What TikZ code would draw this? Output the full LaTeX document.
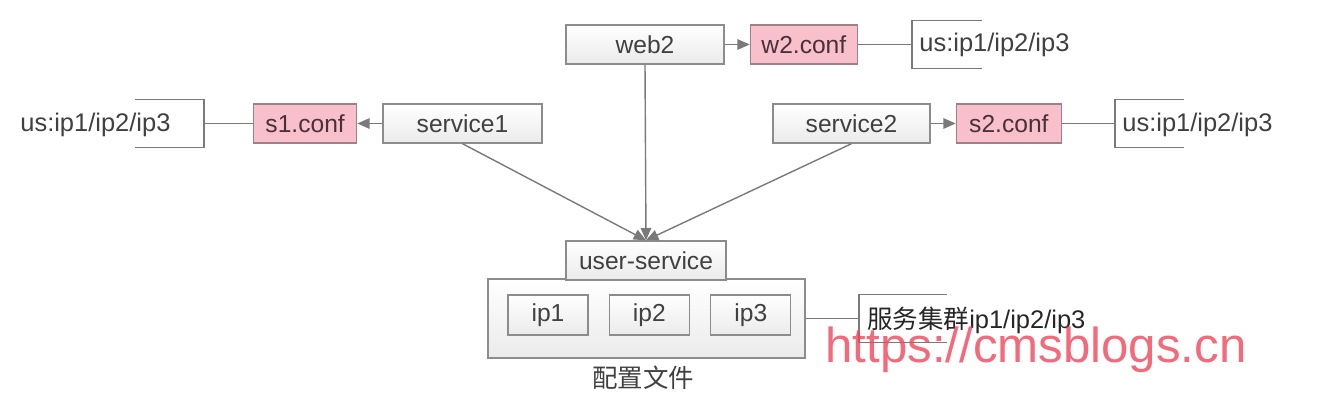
\documentclass[tikz,border=0pt]{standalone}
\usepackage{fontspec}
\setmainfont{Liberation Sans}
\newfontfamily\cjk{Noto Sans CJK SC}
\usetikzlibrary{arrows.meta,positioning}
\definecolor{boxline}{HTML}{8C8C8C}
\definecolor{linegray}{HTML}{7A7A7A}
\definecolor{textgray}{HTML}{404040}
\definecolor{confpink}{HTML}{F7C0CB}
\definecolor{confline}{HTML}{A08088}
\definecolor{conftext}{HTML}{4A3038}
\definecolor{wmred}{HTML}{F0455A}

\begin{document}
\begin{tikzpicture}[
    x=0.02cm, y=-0.02cm,
    mybox/.style={
    draw=boxline,
    line width=0.8pt,
    top color=white,
    bottom color=gray!16,
    text=textgray,
    inner sep=0pt,
    minimum height=0.78cm,
    font=\fontsize{14}{16}\selectfont},
    confbox/.style={
    draw=confline,
    line width=0.8pt,
    fill=confpink,
    text=conftext,
    inner sep=0pt,
    minimum height=0.78cm,
    font=\fontsize{14}{16}\selectfont},
    labeltext/.style={text=textgray,inner sep=0pt,font=\fontsize{14.5}{16}\selectfont},
    myline/.style={draw=linegray,line width=0.8pt},
    myarrow/.style={myline,-{Triangle[length=7pt,width=6pt]}},
    node distance=0.5cm and 0.5cm
    ]
    \useasboundingbox (0,0) rectangle (1332,402);

    \node[mybox, minimum width=3.16cm] (web2) at (645,44.5) {web2};
    \node[confbox, minimum width=2.14cm, right= of web2] (w2conf) {w2.conf};
    \node[mybox, minimum width=3.18cm] (service1) at (462.5,123.5) {service1};
    \node[confbox, minimum width=2.06cm, left= of service1] (s1conf) {s1.conf};
    \node[mybox, minimum width=3.14cm] (service2) at (851.5,123.5) {service2};
    \node[confbox, minimum width=2.1cm, right= of service2] (s2conf) {s2.conf};

    \node[mybox, minimum width=6.34cm, minimum height=1.58cm] (cluster) at (646.5,318.5) {};
    \node[mybox, minimum width=3.2cm] (userservice) at (646,260.5) {user-service};
    \node[mybox, minimum width=1.6cm, minimum height=0.8cm] (ip1) at (548,315) {ip1};
    \node[mybox, minimum width=1.6cm, minimum height=0.8cm, right=0.4cm of ip1] (ip2) {ip2};
    \node[mybox, minimum width=1.6cm, minimum height=0.8cm, right=0.4cm of ip2] (ip3) {ip3};
    \node[labeltext] (cfglabel) at (643,378) {\cjk 配置文件};

    \draw[myarrow] (web2) -- (w2conf);
    \draw[myarrow] (service1) -- (s1conf);
    \draw[myarrow] (service2) -- (s2conf);

    \draw[myarrow] (service1.south) -- (userservice.north);
    \draw[myarrow] (web2.south) -- (userservice.north);
    \draw[myarrow] (service2.south) -- (userservice.north);

    % brackets
    \coordinate (b1) at (204,123.5);
    \coordinate (b2) at (912,44.5);
    \coordinate (b3) at (1115,123.5);
    \coordinate (b4) at (859,318.5);
    \draw[myline] (s1conf) -- (b1);
    \draw[myline] (w2conf) -- (b2);
    \draw[myline] (s2conf) -- (b3);
    \draw[myline] (cluster) -- (b4);
    \draw[myline] ([shift={(-69,-24)}]b1) -- ([shift={(0,-24)}]b1) -- ([shift={(0,24)}]b1) -- ([shift={(-69,24)}]b1);
    \draw[myline] ([shift={(70,-24)}]b2) -- ([shift={(0,-24)}]b2) -- ([shift={(0,24)}]b2) -- ([shift={(70,24)}]b2);
    \draw[myline] ([shift={(69,-24)}]b3) -- ([shift={(0,-24)}]b3) -- ([shift={(0,24)}]b3) -- ([shift={(69,24)}]b3);
    \draw[myline] ([shift={(88,-24)}]b4) -- ([shift={(0,-24)}]b4) -- ([shift={(0,24)}]b4) -- ([shift={(88,24)}]b4);

    \node[labeltext, anchor=west] (us1) at (20,125) {us:ip1/ip2/ip3};
    \node[labeltext, anchor=west] (us2) at (919,45) {us:ip1/ip2/ip3};
    \node[labeltext, anchor=west] (us3) at (1122,125) {us:ip1/ip2/ip3};
    \node[labeltext, anchor=west, text=black!85] (us4) at (867,320) {{\cjk 服务集群}ip1/ip2/ip3};

    \node[anchor=base west, inner sep=0pt, text=wmred, text opacity=0.8, font=\fontsize{28}{32}\selectfont] (wm) at (825,362) {https://cmsblogs.cn};
\end{tikzpicture}
\end{document}
